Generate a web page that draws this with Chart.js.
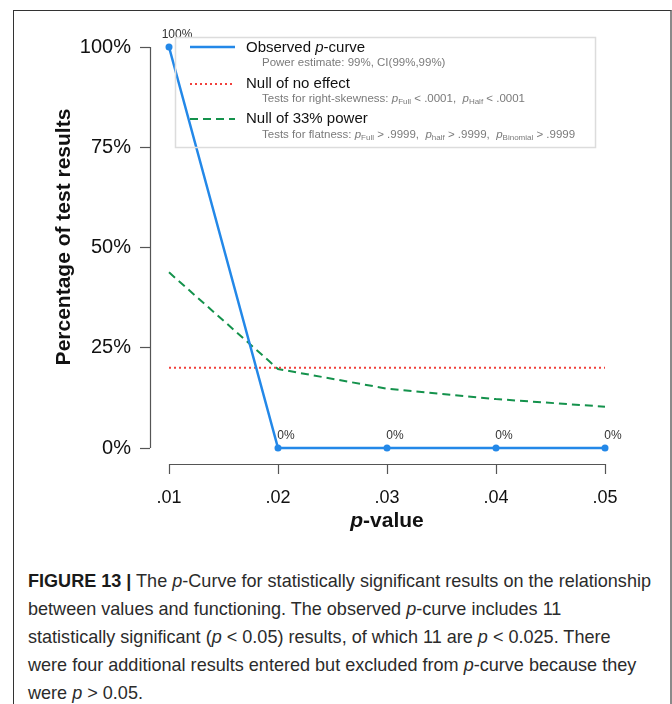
<!DOCTYPE html>
<html>
<head>
<meta charset="utf-8">
<script src="https://cdn.jsdelivr.net/npm/chart.js@4.4.1/dist/chart.umd.min.js"></script>
<style>
  html, body { margin: 0; padding: 0; background: #fff; }
  body { width: 672px; height: 704px; position: relative; overflow: hidden;
         font-family: "Liberation Sans", Arial, Helvetica, sans-serif; }
  #frame { position: absolute; left: 13px; top: 10px; width: 656px; height: 720px;
           border-left: 1px solid #333; border-top: 1px solid #333; border-right: 2px solid #8a8a8a; }
  #wrap { position: absolute; left: 0; top: 0; width: 672px; height: 545px; }
  #caption { position: absolute; left: 28px; top: 567px; font-size: 19px; line-height: 28px;
             color: #2b2b2b; white-space: nowrap; transform-origin: 0 0; }
  #caption b { font-weight: bold; color: #1a1a1a; }
</style>
</head>
<body>
<div id="frame"></div>
<div id="wrap"><canvas id="chart" width="672" height="545"></canvas></div>
<div id="caption">
  <div><span id="line1"><b>FIGURE 13 |</b> The <i>p</i>-Curve for statistically significant results on the relationship</span></div>
  <div>between values and functioning. The observed <i>p</i>-curve includes 11</div>
  <div>statistically significant (<i>p</i> &lt; 0.05) results, of which 11 are <i>p</i> &lt; 0.025. There</div>
  <div>were four additional results entered but excluded from <i>p</i>-curve because they</div>
  <div>were <i>p</i> &gt; 0.05.</div>
</div>
<script>
// p-curve data: share of significant results falling in each p-value bin
const pValues      = [0.01, 0.02, 0.03, 0.04, 0.05];
const xTickLabels  = ['.01', '.02', '.03', '.04', '.05'];
const observed     = [100, 0, 0, 0, 0];
const nullNoEffect = [20, 20, 20, 20, 20];
const null33Power  = [43.8, 19.7, 14.8, 12.2, 10.3];
const yTicks       = [0, 25, 50, 75, 100];
const yTickLabels  = ['0%', '25%', '50%', '75%', '100%'];
const pointLabels  = ['100%', '0%', '0%', '0%', '0%'];

const FONT = '"Liberation Sans", Arial, Helvetica, sans-serif';
Chart.defaults.font.family = FONT;

const BLUE = '#2388e8', RED = '#f2403c', GREEN = '#14924c', AXIS = '#555';

// plot geometry: pixels per percentage point and the plot area's top edge
const PX_PER_PCT = 4.01;
const PLOT_TOP = 10;

const toXY = vals => pValues.map((p, i) => ({ x: p, y: vals[i] }));

// draws a sequence of differently styled text pieces left to right
function drawRuns(ctx, runs, x, y) {
  for (const [text, font, dy] of runs) {
    ctx.font = font;
    ctx.fillText(text, x, y + (dy || 0));
    x += ctx.measureText(text).width;
  }
  return x;
}
function runsWidth(ctx, runs) {
  let w = 0;
  for (const [text, font] of runs) { ctx.font = font; w += ctx.measureText(text).width; }
  return w;
}

const figurePlugin = {
  id: 'pcurveDecor',
  afterDraw(chart) {
    const { ctx, chartArea, scales: { x, y } } = chart;
    ctx.save();

    // detached R-style axis lines spanning the first to last tick
    ctx.strokeStyle = AXIS;
    ctx.lineWidth = 1.2;
    ctx.beginPath();
    const ax = Math.round(chartArea.left) + 0.5;
    ctx.moveTo(ax, y.getPixelForValue(yTicks[0]));
    ctx.lineTo(ax, y.getPixelForValue(yTicks[yTicks.length - 1]));
    const ay = Math.round(chartArea.bottom) + 0.5;
    ctx.moveTo(x.getPixelForValue(pValues[0]), ay);
    ctx.lineTo(x.getPixelForValue(pValues[pValues.length - 1]), ay);
    ctx.stroke();

    // value labels above the observed points
    const meta = chart.getDatasetMeta(0);
    ctx.fillStyle = '#333';
    ctx.textAlign = 'center';
    ctx.textBaseline = 'alphabetic';
    ctx.font = '12px ' + FONT;
    meta.data.forEach((pt, i) => ctx.fillText(pointLabels[i], pt.x + 8, pt.y - 9));

    // x axis title: italic p followed by "-value"
    const titleRuns = [['p', 'italic bold 21px ' + FONT], ['-value', 'bold 21px ' + FONT]];
    const cx = (x.getPixelForValue(pValues[0]) + x.getPixelForValue(pValues[pValues.length - 1])) / 2;
    ctx.textAlign = 'left';
    ctx.textBaseline = 'middle';
    ctx.fillStyle = '#111';
    drawRuns(ctx, titleRuns, cx - runsWidth(ctx, titleRuns) / 2, 521);

    // legend box
    ctx.strokeStyle = '#dcdcdc';
    ctx.lineWidth = 1.5;
    ctx.strokeRect(175.5, 37.5, 420, 110);

    const main = '15px ' + FONT;
    const sub = '11.5px ' + FONT;
    const subI = 'italic 11.5px ' + FONT;
    const tiny = '8px ' + FONT;
    const sampleLine = (yy, color, dash, width) => {
      ctx.save();
      ctx.strokeStyle = color; ctx.lineWidth = width; ctx.setLineDash(dash);
      ctx.beginPath(); ctx.moveTo(190, yy); ctx.lineTo(235, yy); ctx.stroke();
      ctx.restore();
    };
    sampleLine(47, BLUE, [], 2.5);
    sampleLine(84, RED, [2, 3], 2);
    sampleLine(119, GREEN, [8, 5], 2);

    ctx.textBaseline = 'middle';
    ctx.fillStyle = '#111';
    drawRuns(ctx, [['Observed ', main], ['p', 'italic ' + main], ['-curve', main]], 246, 48);
    drawRuns(ctx, [['Null of no effect', main]], 246, 84);
    drawRuns(ctx, [['Null of 33% power', main]], 246, 119);

    ctx.fillStyle = '#7a7a7a';
    drawRuns(ctx, [['Power estimate: 99%, CI(99%,99%)', sub]], 262, 63);
    drawRuns(ctx, [
      ['Tests for right-skewness: ', sub], ['p', subI], ['Full', tiny, 3], [' < .0001,  ', sub],
      ['p', subI], ['Half', tiny, 3], [' < .0001', sub]
    ], 262, 99);
    drawRuns(ctx, [
      ['Tests for flatness: ', sub], ['p', subI], ['Full', tiny, 3], [' > .9999,  ', sub],
      ['p', subI], ['half', tiny, 3], [' > .9999,  ', sub],
      ['p', subI], ['Binomial', tiny, 3], [' > .9999', sub]
    ], 262, 135);

    ctx.restore();
  }
};

new Chart(document.getElementById('chart'), {
  type: 'line',
  data: {
    datasets: [
      { label: 'Observed p-curve', data: toXY(observed), borderColor: BLUE, backgroundColor: BLUE,
        borderWidth: 2.5, pointRadius: 3.5, pointBackgroundColor: BLUE, pointBorderWidth: 0, tension: 0 },
      { label: 'Null of no effect', data: toXY(nullNoEffect), borderColor: RED, borderWidth: 2,
        borderDash: [2, 3], pointRadius: 0, tension: 0 },
      { label: 'Null of 33% power', data: toXY(null33Power), borderColor: GREEN, borderWidth: 2,
        borderDash: [8, 5], pointRadius: 0, tension: 0 }
    ]
  },
  options: {
    responsive: false,
    animation: false,
    devicePixelRatio: 1,
    layout: { padding: { left: 0, right: 46, top: PLOT_TOP, bottom: 0 } },
    plugins: { legend: { display: false }, tooltip: { enabled: false } },
    scales: {
      x: {
        type: 'linear',
        min: 0.01 - 19 / 10900,
        max: 0.05 + 21 / 10900,
        afterFit: s => { s.height = 81; },
        afterBuildTicks: s => { s.ticks = pValues.map(v => ({ value: v })); },
        border: { display: false },
        grid: { display: true, drawOnChartArea: false, drawTicks: true, tickLength: 10,
                tickColor: AXIS, tickWidth: 1.2 },
        ticks: { autoSkip: false, maxRotation: 0, minRotation: 0, padding: 13, color: '#111',
                 font: { size: 18 }, callback: (v, i) => xTickLabels[i] }
      },
      y: {
        min: -16 / PX_PER_PCT,
        max: 100 + (47 - PLOT_TOP) / PX_PER_PCT,
        afterFit: s => { s.width = 150; s.paddingTop = 0; s.paddingBottom = 0; },
        afterBuildTicks: s => { s.ticks = yTicks.map(v => ({ value: v })); },
        border: { display: false },
        grid: { display: true, drawOnChartArea: false, drawTicks: true, tickLength: 10,
                tickColor: AXIS, tickWidth: 1.2 },
        ticks: { autoSkip: false, padding: 9, color: '#111', font: { size: 20 },
                 callback: (v, i) => yTickLabels[i] },
        title: { display: true, text: 'Percentage of test results', color: '#111',
                 font: { size: 21, weight: 'bold' }, padding: { top: 52, bottom: 0 } }
      }
    }
  },
  plugins: [figurePlugin]
});

// fit the caption's first line to the figure width
(function fitCaption() {
  const cap = document.getElementById('caption');
  const w = document.getElementById('line1').getBoundingClientRect().width;
  cap.style.transform = 'scaleX(' + (623 / w).toFixed(4) + ')';
})();
</script>
</body>
</html>
